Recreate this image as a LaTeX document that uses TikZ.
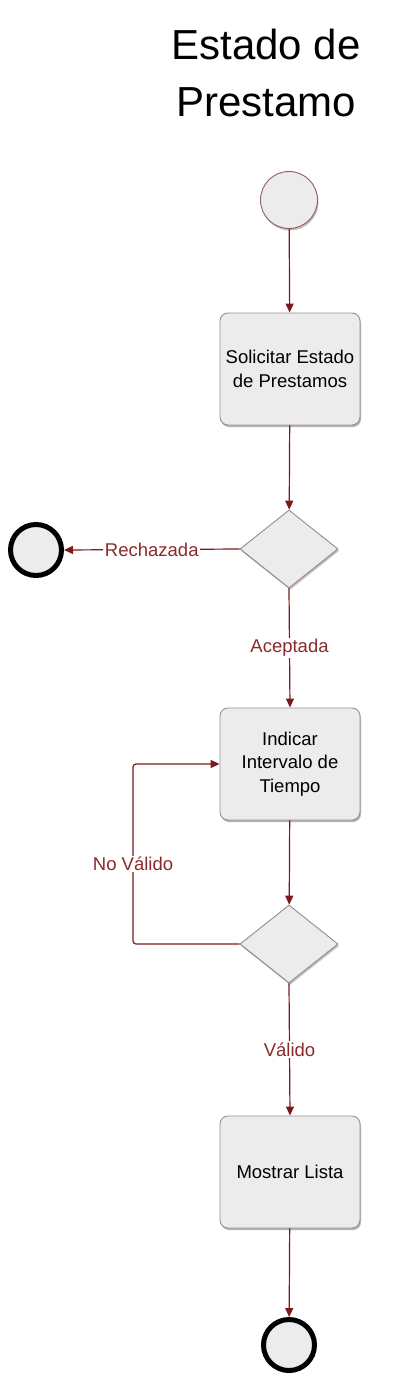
\documentclass[tikz,border=0pt]{standalone}
\usepackage{fontspec}
\setmainfont{Liberation Sans}
\usetikzlibrary{shapes.geometric,arrows.meta,shadows}
\definecolor{lnc}{HTML}{7A1A1A}
\definecolor{lbc}{HTML}{8A2A2A}
\definecolor{boxfill}{HTML}{ECECEC}
\definecolor{boxdraw}{HTML}{A08C8C}
\tikzset{
  actbox/.style={draw=boxdraw, line width=0.9pt, fill=boxfill, rounded corners=8pt,
    minimum width=140pt, minimum height=112pt, align=center, inner sep=2pt,
    font=\fontsize{18.5}{23.5}\selectfont,
    drop shadow={shadow xshift=1pt, shadow yshift=-2pt, opacity=0.3, fill=black}},
  decision/.style={diamond, draw=boxdraw!80!gray, line width=0.9pt, fill=boxfill,
    minimum width=98pt, minimum height=78pt, inner sep=0pt,
    drop shadow={shadow xshift=1pt, shadow yshift=-2pt, opacity=0.25, fill=black}},
  startnode/.style={circle, draw=boxdraw!60!lnc, line width=0.9pt, fill=boxfill,
    minimum size=57pt, inner sep=0pt,
    drop shadow={shadow xshift=1pt, shadow yshift=-2pt, opacity=0.25, fill=black}},
  endnode/.style={circle, draw=black, line width=5pt, fill=boxfill,
    minimum size=51pt, inner sep=0pt,
    drop shadow={shadow xshift=1pt, shadow yshift=-2pt, opacity=0.25, fill=black}},
  flow/.style={draw=lnc, line width=1.2pt, -{Triangle[length=9pt,width=8pt]}},
  lbl/.style={text=lbc, fill=white, inner sep=1.5pt, font=\fontsize{18.5}{21}\selectfont}
}
\begin{document}
\begin{tikzpicture}[x=1pt,y=-1pt]
\useasboundingbox (0,0) rectangle (403,1388);
\node[align=center, font=\fontsize{42}{57}\selectfont] (title) at (266,73) {Estado de\\Prestamo};
\node[startnode] (s) at (289,200) {};
\node[actbox] (b1) at (290,369) {Solicitar Estado\\de Prestamos};
\node[decision] (d1) at (289,549) {};
\node[endnode] (e1) at (36,550) {};
\node[actbox] (b2) at (290,764) {Indicar\\Intervalo de\\Tiempo};
\node[decision] (d2) at (289,944) {};
\node[actbox] (b3) at (290,1172) {Mostrar Lista};
\node[endnode] (e2) at (289,1345) {};
\coordinate (lp) at (133,944);
\draw[flow] (s) -- (b1);
\draw[flow] (b1) -- (d1);
\draw[flow] (d1.west) -- node[lbl] {Rechazada} (e1.east);
\draw[flow] (d1.south) -- node[lbl] {Aceptada} (b2.north);
\draw[flow] (b2) -- (d2);
\draw[flow, rounded corners=3pt] (d2.west) -- (lp) |- (b2.west);
\node[lbl] (nv) at (133,864) {No Válido};
\draw[flow] (d2.south) -- node[lbl] {Válido} (b3.north);
\draw[flow] (b3) -- (e2);
\end{tikzpicture}
\end{document}
